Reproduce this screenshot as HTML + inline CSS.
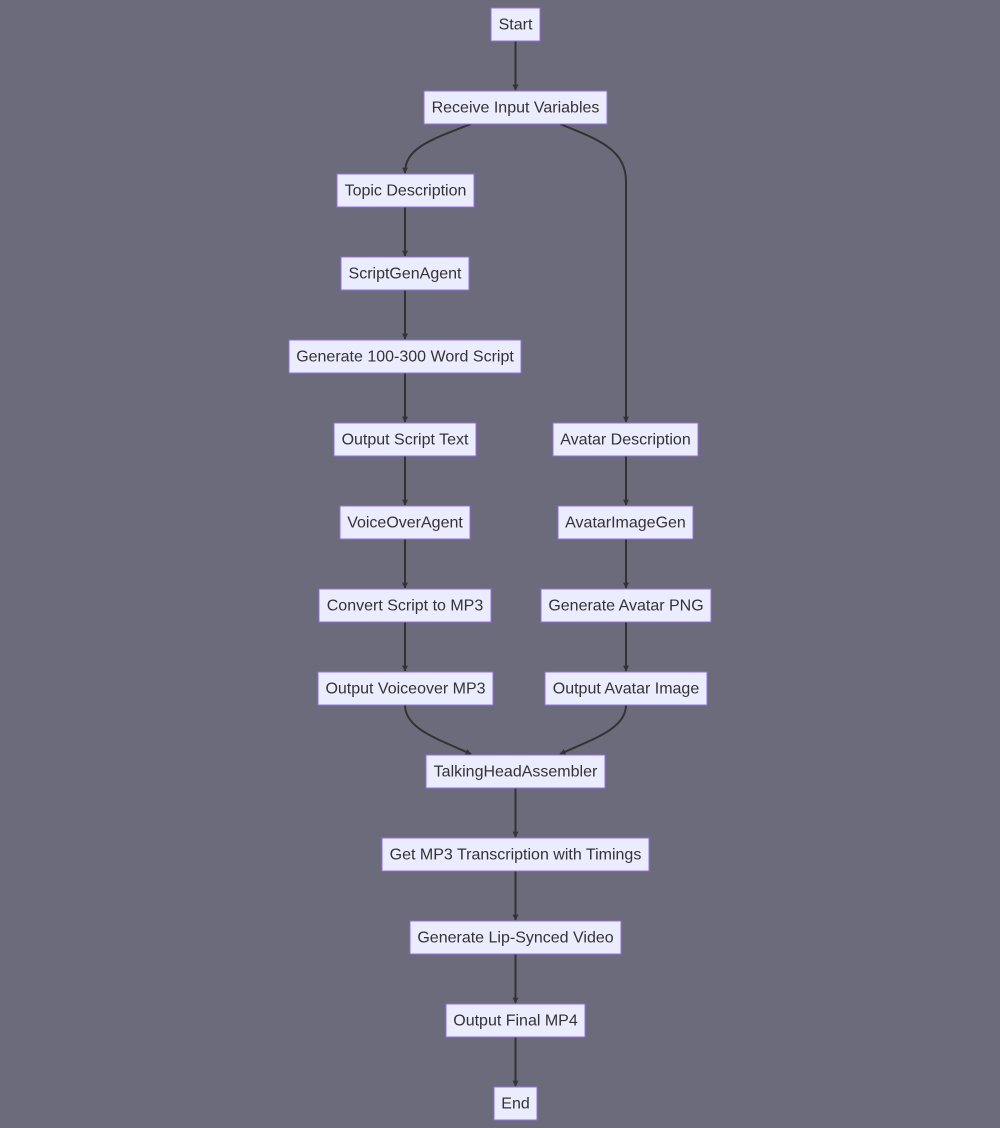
<!DOCTYPE html>
<html><head><meta charset="utf-8"><style>
html,body{margin:0;padding:0;background:#6b6b7b;}
svg{display:block}
text{font-family:"Liberation Sans",Arial,sans-serif;font-size:16px;fill:#333;text-anchor:middle;dominant-baseline:central}
rect{fill:#ECECFF;stroke:#9370DB;stroke-width:1}
.e{fill:none;stroke:#333;stroke-width:2}
</style></head><body>
<svg width="1000" height="1128" viewBox="0 0 1000 1128">
<defs><marker id="a" viewBox="0 0 10 10" refX="9" refY="5" markerWidth="6" markerHeight="6" markerUnits="userSpaceOnUse" orient="auto"><path d="M0,0L10,5L0,10z" fill="#333"/></marker></defs>
<rect x="0" y="0" width="1000" height="1128" style="fill:#6b6b7b;stroke:none"/>
<g>
<path class="e" marker-end="url(#a)" d="M515.5,41V90"/>
<path class="e" marker-end="url(#a)" d="M471,124C430,140 405,148 405,173"/>
<path class="e" marker-end="url(#a)" d="M560,124C600,140 626,150 626,182V422"/>
<path class="e" marker-end="url(#a)" d="M405,207V256"/>
<path class="e" marker-end="url(#a)" d="M405,290V339"/>
<path class="e" marker-end="url(#a)" d="M405,373V422"/>
<path class="e" marker-end="url(#a)" d="M405,456V505"/>
<path class="e" marker-end="url(#a)" d="M405,539V588"/>
<path class="e" marker-end="url(#a)" d="M405,622V671"/>
<path class="e" marker-end="url(#a)" d="M626,456V505"/>
<path class="e" marker-end="url(#a)" d="M626,539V588"/>
<path class="e" marker-end="url(#a)" d="M626,622V671"/>
<path class="e" marker-end="url(#a)" d="M405,705C405,728 435,738 471,754"/>
<path class="e" marker-end="url(#a)" d="M626,705C626,728 596,738 560,754"/>
<path class="e" marker-end="url(#a)" d="M515.5,788V837"/>
<path class="e" marker-end="url(#a)" d="M515.5,871V920"/>
<path class="e" marker-end="url(#a)" d="M515.5,954V1003"/>
<path class="e" marker-end="url(#a)" d="M515.5,1037V1086"/>
</g>
<g>
<rect x="491" y="8" width="49" height="33"/><text x="515.5" y="25">Start</text>
<rect x="424" y="91" width="183" height="33"/><text x="515.5" y="108">Receive Input Variables</text>
<rect x="337" y="174" width="137" height="33"/><text x="405.5" y="191">Topic Description</text>
<rect x="341" y="257" width="128" height="33"/><text x="405" y="274">ScriptGenAgent</text>
<rect x="289" y="340" width="232" height="33"/><text x="405" y="357">Generate 100-300 Word Script</text>
<rect x="334" y="423" width="142" height="33"/><text x="405" y="440">Output Script Text</text>
<rect x="553" y="423" width="145" height="33"/><text x="625.5" y="440">Avatar Description</text>
<rect x="340" y="506" width="130" height="33"/><text x="405" y="523">VoiceOverAgent</text>
<rect x="558" y="506" width="135" height="33"/><text x="625.5" y="523">AvatarImageGen</text>
<rect x="319" y="589" width="172" height="33"/><text x="405" y="606">Convert Script to MP3</text>
<rect x="541" y="589" width="170" height="33"/><text x="626" y="606">Generate Avatar PNG</text>
<rect x="318" y="672" width="175" height="33"/><text x="405.5" y="689">Output Voiceover MP3</text>
<rect x="545" y="672" width="162" height="33"/><text x="626" y="689">Output Avatar Image</text>
<rect x="426" y="755" width="179" height="33"/><text x="515.5" y="772">TalkingHeadAssembler</text>
<rect x="382" y="838" width="267" height="33"/><text x="515.5" y="855">Get MP3 Transcription with Timings</text>
<rect x="410" y="921" width="211" height="33"/><text x="515.5" y="938">Generate Lip-Synced Video</text>
<rect x="446" y="1004" width="139" height="33"/><text x="515.5" y="1021">Output Final MP4</text>
<rect x="494" y="1087" width="43" height="33"/><text x="515.5" y="1104">End</text>
</g>
</svg>
</body></html>
